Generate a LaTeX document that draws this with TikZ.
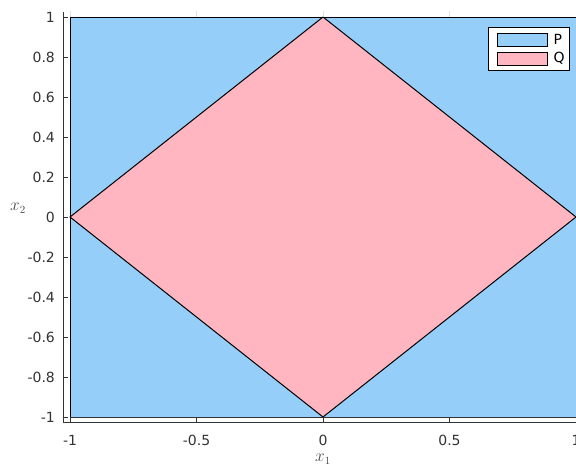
\documentclass[tikz,border=0pt]{standalone}
\usepackage{fontspec}
\setmainfont{DejaVu Sans}
\usepackage{tikz}
\usetikzlibrary{positioning}
\definecolor{setP}{RGB}{150,206,250}
\definecolor{setQ}{RGB}{255,182,193}
\definecolor{axisgray}{RGB}{51,51,51}

\begin{document}
\begin{tikzpicture}[x=253pt,y=200pt,
  ticklabel/.style={font=\fontsize{14}{14}\selectfont,text=axisgray,inner sep=0pt},
  axislabel/.style={font=\fontsize{16}{16}\selectfont,text=black!70,inner sep=0pt},
  swatch/.style={draw=black,line width=0.9pt,minimum width=50pt,minimum height=13pt,inner sep=0pt}]
 \useasboundingbox (-1.2767,-1.26) rectangle (1.0,1.085);
 % feasible sets
 \fill[setP] (-1,-1) rectangle (1,1);
 \draw[line width=1pt] (-1,-1) -- (-1,1) -- (1,1);
 \draw[line width=1pt,black!80] (-1,-1) -- (1,-1);
 \filldraw[fill=setQ,draw=black,line width=1pt] (-1,0) -- (0,1) -- (1,0) -- (0,-1) -- cycle;
 % axes
 \draw[line width=0.9pt,axisgray] (-1.0277,1.025) -- (-1.0277,-1.025) -- (1.0,-1.025);
 \foreach \y/\t in {-1/-1,-0.8/-0.8,-0.6/-0.6,-0.4/-0.4,-0.2/-0.2,0/0,0.2/0.2,0.4/0.4,0.6/0.6,0.8/0.8,1/1} {
   \draw[line width=0.9pt,axisgray] (-1.0277,\y) -- ++(0.02,0);
   \node[ticklabel,anchor=east] (yl\t) at (-1.059,\y) {\t};
 }
 \foreach \x/\t in {-1/-1,-0.5/-0.5,0/0,0.5/0.5,1/1} {
   \draw[line width=0.9pt,axisgray] (\x,-1.025) -- ++(0,0.025);
   \draw[line width=0.9pt,black!12] (\x,1) -- ++(0,0.03);
   \node[ticklabel] (xl\t) at (\x,-1.115) {\t};
 }
 \node[axislabel] (xlab) at (0,-1.21) {$x_1$};
 \node[axislabel] (ylab) at (-1.2055,0.045) {$x_2$};
 % legend
 \draw[fill=white,line width=0.9pt] (0.652,0.735) rectangle (0.976,0.95);
 \node[swatch,fill=setP] (legP) at (0.7865,0.8875) {};
 \node[swatch,fill=setQ] (legQ) at (0.7865,0.7925) {};
 \node[ticklabel,text=black,right=6pt of legP] (txtP) {P};
 \node[ticklabel,text=black,right=6pt of legQ] (txtQ) {Q};
\end{tikzpicture}
\end{document}
